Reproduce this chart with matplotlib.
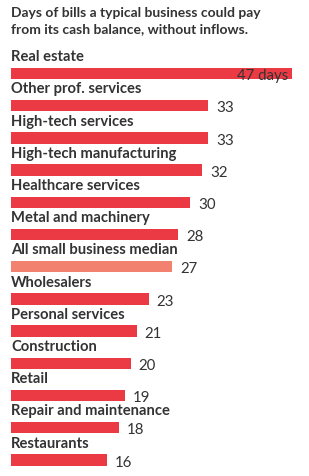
import matplotlib.pyplot as plt

categories = ["Real estate", "Other prof. services", "High-tech services",
              "High-tech manufacturing", "Healthcare services", "Metal and machinery",
              "All small business median", "Wholesalers", "Personal services",
              "Construction", "Retail", "Repair and maintenance", "Restaurants"]
days = [47, 33, 33, 32, 30, 28, 27, 23, 21, 20, 19, 18, 16]
highlight = "All small business median"

title = "Days of bills a typical business could pay\nfrom its cash balance, without inflows."

red = "#ec3a45"
salmon = "#f2826f"
text_col = "#333333"

fig = plt.figure(figsize=(3.09, 4.77), dpi=100)
W, H = 309, 477
x0, x47 = 11, 292
ax = fig.add_axes([x0 / W, 0, (x47 - x0) / W, 1])
ax.set_xlim(0, 47)
row0, step = 74.5, 32.2
ax.set_ylim((H - row0) / step, -row0 / step)
ax.axis("off")

colors = [salmon if c == highlight else red for c in categories]
ypos = list(range(len(categories)))
ax.barh(ypos, days, height=0.36, color=colors)

for i, (c, v) in enumerate(zip(categories, days)):
    ax.text(0, i - 0.54, c, fontsize=10.6, fontweight="bold", family="Lato",
            color=text_col, va="center", ha="left")
    if i == 0:
        ax.text(v - 0.6, i + 0.05, f"{v} days", fontsize=10.8, family="Lato",
                color=text_col, va="center", ha="right")
    else:
        ax.text(v + 1.3, i + 0.05, str(v), fontsize=10.8, family="Lato",
                color=text_col, va="center", ha="left")

fig.text(x0 / W, 1 - 7 / H, title, fontsize=10.0, fontweight="bold", family="Lato",
         color=text_col, va="top", ha="left", linespacing=1.4)

fig.savefig("out.png", dpi=100, facecolor="white")
